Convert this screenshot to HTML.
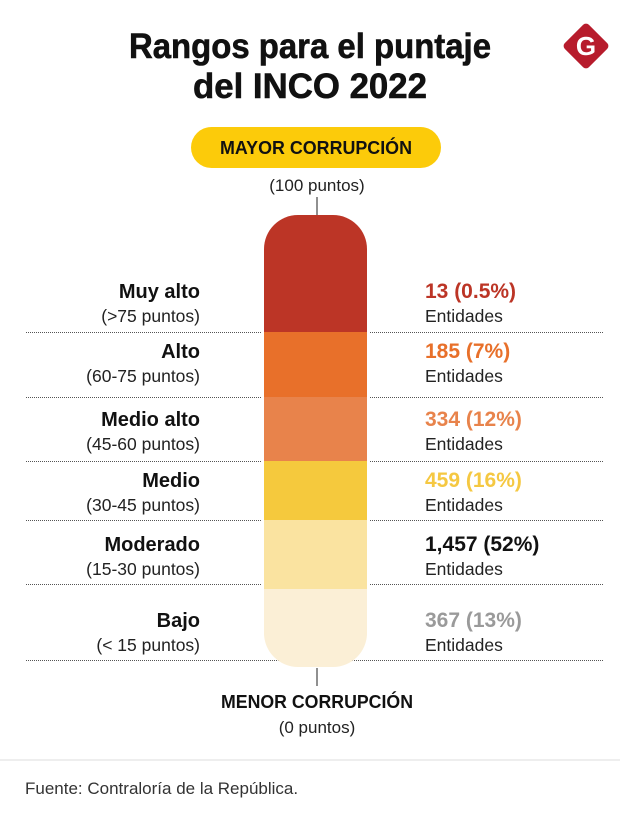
<!DOCTYPE html>
<html><head><meta charset="utf-8">
<style>
html,body{margin:0;padding:0;background:#fff;}
svg{display:block;font-family:"Liberation Sans",sans-serif;}
</style></head>
<body>
<svg id="chart" width="620" height="820" viewBox="0 0 620 820" xmlns="http://www.w3.org/2000/svg">
  <text x="310" y="58" text-anchor="middle" font-size="35" font-weight="bold" textLength="362" lengthAdjust="spacingAndGlyphs" fill="#111" stroke="#111" stroke-width="0.6">Rangos para el puntaje</text>
  <text x="310" y="98" text-anchor="middle" font-size="35" font-weight="bold" textLength="234" lengthAdjust="spacingAndGlyphs" fill="#111" stroke="#111" stroke-width="0.6">del INCO 2022</text>
  <g>
    <rect x="569" y="29" width="34" height="34" rx="4" transform="rotate(45 586 46)" fill="#B71C2C"/>
    <text x="586" y="55" text-anchor="middle" font-size="26" font-weight="bold" fill="#fff">G</text>
  </g>
  <rect x="191" y="127" width="250" height="41" rx="20.5" fill="#FCCB0A"/>
  <text x="316" y="154" text-anchor="middle" font-size="18" font-weight="bold" textLength="192" lengthAdjust="spacingAndGlyphs" fill="#111">MAYOR CORRUPCIÓN</text>
  <text x="317" y="191" text-anchor="middle" font-size="17" fill="#222">(100 puntos)</text>
  <line x1="317" y1="197" x2="317" y2="215" stroke="#222" stroke-width="1"/>
  <defs><clipPath id="barclip"><rect x="264" y="215" width="103" height="452" rx="34"/></clipPath></defs>
  <g id="bar" clip-path="url(#barclip)"></g>
  <g id="rows"></g>
  <line x1="317" y1="668" x2="317" y2="686" stroke="#222" stroke-width="1"/>
  <text x="317" y="708" text-anchor="middle" font-size="18" font-weight="bold" textLength="192" lengthAdjust="spacingAndGlyphs" fill="#111">MENOR CORRUPCIÓN</text>
  <text x="317" y="733" text-anchor="middle" font-size="17" fill="#222">(0 puntos)</text>
  <line x1="0" y1="760" x2="620" y2="760" stroke="#ddd" stroke-width="1"/>
  <text x="25" y="794" font-size="17" fill="#333">Fuente: Contraloría de la República.</text>
</svg>
<script>
const categories = ["Muy alto","Alto","Medio alto","Medio","Moderado","Bajo"];
const ranges = ["(>75 puntos)","(60-75 puntos)","(45-60 puntos)","(30-45 puntos)","(15-30 puntos)","(< 15 puntos)"];
const counts = ["13","185","334","459","1,457","367"];
const percents = ["0.5%","7%","12%","16%","52%","13%"];
const barColors = ["#BC3526","#E8702A","#E8834B","#F5C93D","#FAE3A0","#FBEFD6"];
const valueColors = ["#BC3526","#E8702A","#E8834B","#F5C842","#111111","#9A9A9A"];

const NS = "http://www.w3.org/2000/svg";
const bar = document.getElementById("bar");
const rows = document.getElementById("rows");
const segTop = [215,332,397,461,520,589];
const segBot = [332,397,461,520,589,667];
const sepY = [332,397,461,520,584,660];
const labelY = [298,358,426,487,551,627];
function mk(tag, attrs){const e=document.createElementNS(NS,tag);for(const k in attrs)e.setAttribute(k,attrs[k]);return e;}
categories.forEach((c,i)=>{
  const r = mk("rect",{x:264,y:segTop[i],width:103,height:segBot[i]-segTop[i],fill:barColors[i]});
  
  
  bar.appendChild(r);

  const t1 = mk("text",{x:200,y:labelY[i],"text-anchor":"end","font-size":20,"font-weight":"bold",fill:"#111"});
  t1.textContent = c;
  
  
  rows.appendChild(t1);
  const t2 = mk("text",{x:200,y:labelY[i]+24,"text-anchor":"end","font-size":17.5,fill:"#222"});
  t2.textContent = ranges[i];
  
  
  rows.appendChild(t2);
  const v = mk("text",{x:425,y:labelY[i],"font-size":21,"font-weight":"bold",fill:valueColors[i]});
  v.textContent = counts[i]+" ("+percents[i]+")";
  
  
  rows.appendChild(v);
  const e = mk("text",{x:425,y:labelY[i]+24,"font-size":17.5,fill:"#222"});
  e.textContent = "Entidades";
  
  
  rows.appendChild(e);

  const lastRow = i===categories.length-1;
  const segs = lastRow ? [[26,604]] : [[26,262],[370,604]];
  segs.forEach(s=>{
    const l = mk("line",{x1:s[0],x2:s[1],y1:sepY[i]+0.5,y2:sepY[i]+0.5,stroke:"#555","stroke-width":1,"stroke-dasharray":"1 1"});
    
    
    rows.insertBefore(l, rows.firstChild);
  });
});
document.getElementById("chart").insertBefore(rows.firstChild, bar);
</script>
</body></html>
